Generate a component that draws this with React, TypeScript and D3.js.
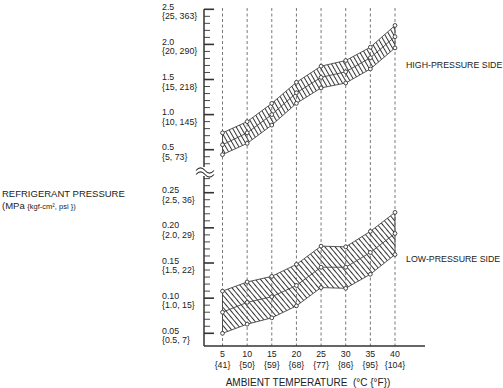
import React from 'react';
import * as d3 from 'd3';

// ambient temperature (°C / °F)
const tempsC = [5, 10, 15, 20, 25, 30, 35, 40];
const tempsF = [41, 50, 59, 68, 77, 86, 95, 104];

// high-pressure side (MPa)
const highMax = [0.74, 0.90, 1.16, 1.46, 1.69, 1.77, 1.96, 2.27];
const highMid = [0.57, 0.74, 1.00, 1.31, 1.53, 1.61, 1.81, 2.11];
const highMin = [0.43, 0.59, 0.85, 1.16, 1.38, 1.45, 1.65, 1.95];

// low-pressure side (MPa)
const lowMax = [0.110, 0.123, 0.131, 0.148, 0.174, 0.173, 0.195, 0.222];
const lowMid = [0.080, 0.094, 0.102, 0.118, 0.144, 0.144, 0.165, 0.192];
const lowMin = [0.050, 0.063, 0.072, 0.089, 0.115, 0.114, 0.134, 0.162];

const highTicks = [0.5, 1.0, 1.5, 2.0, 2.5];
const highTickSub = ['{5, 73}', '{10, 145}', '{15, 218}', '{20, 290}', '{25, 363}'];
const lowTicks = [0.05, 0.10, 0.15, 0.20, 0.25];
const lowTickSub = ['{0.5, 7}', '{1.0, 15}', '{1.5, 22}', '{2.0, 29}', '{2.5, 36}'];

const W = 503;
const H = 388;
const axisX = 204;
const axisY = 346;
const font = '"Liberation Sans", Arial, Helvetica, sans-serif';
const ink = '#333';

export default function App() {
  const x = d3.scaleLinear().domain([5, 40]).range([222.5, 395]);
  const yHigh = d3.scaleLinear().domain([0.5, 2.5]).range([149.7, 9.3]);
  const yLow = d3.scaleLinear().domain([0.05, 0.25]).range([333.3, 192.7]);

  const highMinor = d3.range(3, 26).map(v => v / 10);
  const lowMinor = d3.range(5, 28).map(v => v / 100);

  const band = (y: d3.ScaleLinear<number, number>, lo: number[], hi: number[]) =>
    d3.area<number>()
      .x((d, i) => x(tempsC[i]))
      .y0((d, i) => y(lo[i]))
      .y1((d, i) => y(hi[i]))(tempsC);

  const mkLine = (y: d3.ScaleLinear<number, number>, vals: number[]) =>
    d3.line<number>()
      .x((d, i) => x(tempsC[i]))
      .y(d => y(d))(vals);

  const dots = (y: d3.ScaleLinear<number, number>, vals: number[], key: string) =>
    vals.map((v, i) => (
      <circle key={key + i} cx={x(tempsC[i])} cy={y(v)} r={1.9}
        fill="#fff" stroke="#333" strokeWidth={0.9} />
    ));

  const tickLabels = (y: d3.ScaleLinear<number, number>, ticks: number[], subs: string[], dec: number) =>
    ticks.map((t, i) => (
      <g key={'tl' + t}>
        <text x={162} y={y(t) + 0.5} fontSize={8.8}>{t.toFixed(dec)}</text>
        <text x={162} y={y(t) + 10} fontSize={8.8}>{subs[i]}</text>
      </g>
    ));

  const tickMarks = (y: d3.ScaleLinear<number, number>, minor: number[], major: number[], key: string) =>
    minor.map(v => {
      const isMajor = major.some(m => Math.abs(m - v) < 1e-6);
      return (
        <line key={key + v} x1={axisX} x2={axisX + (isMajor ? 10 : 6)} y1={y(v)} y2={y(v)}
          stroke={ink} strokeWidth={isMajor ? 1.6 : 0.9} />
      );
    });

  return (
    <div style={{ position: 'fixed', left: 0, top: 0 }}>
      <svg width={W} height={H} style={{ display: 'block', background: '#fff' }} fontFamily={font}>
        <defs>
          <pattern id="hatchHigh" patternUnits="userSpaceOnUse" width={3.8} height={10}
            patternTransform="rotate(-30)">
            <line x1={0.5} y1={0} x2={0.5} y2={10} stroke="#333" strokeWidth={1} />
          </pattern>
          <pattern id="hatchLow" patternUnits="userSpaceOnUse" width={3.9} height={10}
            patternTransform="rotate(-40)">
            <line x1={0.5} y1={0} x2={0.5} y2={10} stroke="#333" strokeWidth={1} />
          </pattern>
        </defs>

        {/* bands (hatched fill) */}
        <path d={band(yHigh, highMin, highMax) || ''} fill="url(#hatchHigh)" stroke="none" />
        <path d={band(yLow, lowMin, lowMax) || ''} fill="url(#hatchLow)" stroke="none" />

        {/* dashed temperature gridlines */}
        {tempsC.map(t => (
          <line key={'g' + t} x1={x(t)} x2={x(t)} y1={8} y2={axisY}
            stroke="#555" strokeWidth={0.8} strokeDasharray="3,2.5" />
        ))}

        {/* band outlines and centre lines */}
        <path d={band(yHigh, highMin, highMax) || ''} fill="none" stroke="#444" strokeWidth={0.9} />
        <path d={mkLine(yHigh, highMid) || ''} fill="none" stroke="#444" strokeWidth={0.9} />
        <path d={band(yLow, lowMin, lowMax) || ''} fill="none" stroke="#444" strokeWidth={0.9} />
        <path d={mkLine(yLow, lowMid) || ''} fill="none" stroke="#444" strokeWidth={0.9} />
        {dots(yHigh, highMax, 'ha')}
        {dots(yHigh, highMid, 'hb')}
        {dots(yHigh, highMin, 'hc')}
        {dots(yLow, lowMax, 'la')}
        {dots(yLow, lowMid, 'lb')}
        {dots(yLow, lowMin, 'lc')}

        {/* y axis, broken */}
        <line x1={axisX} x2={axisX} y1={yHigh(2.5)} y2={167} stroke={ink} strokeWidth={1.5} />
        <line x1={axisX} x2={axisX} y1={176} y2={axisY} stroke={ink} strokeWidth={1.5} />
        <path d="M196,170.5 c3,-3.5 6,-3.5 9,0 s6,3.5 9,0" fill="none" stroke={ink} strokeWidth={1.1} />
        <path d="M196,174.5 c3,-3.5 6,-3.5 9,0 s6,3.5 9,0" fill="none" stroke={ink} strokeWidth={1.1} />
        {tickMarks(yHigh, highMinor, highTicks, 'hm')}
        {tickMarks(yLow, lowMinor, lowTicks, 'lm')}

        {/* x axis */}
        <line x1={axisX} x2={425} y1={axisY} y2={axisY} stroke={ink} strokeWidth={1.5} />

        <g fill="#222">
          {tickLabels(yHigh, highTicks, highTickSub, 1)}
          {tickLabels(yLow, lowTicks, lowTickSub, 2)}

          {tempsC.map((t, i) => (
            <g key={'xl' + t}>
              <text x={x(t)} y={357} fontSize={8.8} textAnchor="middle">{t}</text>
              <text x={x(t)} y={367.5} fontSize={8.8} textAnchor="middle">{'{' + tempsF[i] + '}'}</text>
            </g>
          ))}
          <text x={308} y={386} fontSize={10} textAnchor="middle">{'AMBIENT TEMPERATURE\u00A0\u00A0(°C {°F})'}</text>

          <text x={2} y={197} fontSize={9.5}>REFRIGERANT PRESSURE</text>
          <text x={2} y={209} fontSize={9.5}>
            (MPa <tspan fontSize={7.5}>{'{kgf-cm², psi })'}</tspan>
          </text>

          <text x={406} y={67.5} fontSize={8.8}>HIGH-PRESSURE SIDE</text>
          <text x={406} y={261.5} fontSize={8.8}>LOW-PRESSURE SIDE</text>
        </g>
      </svg>
    </div>
  );
}
